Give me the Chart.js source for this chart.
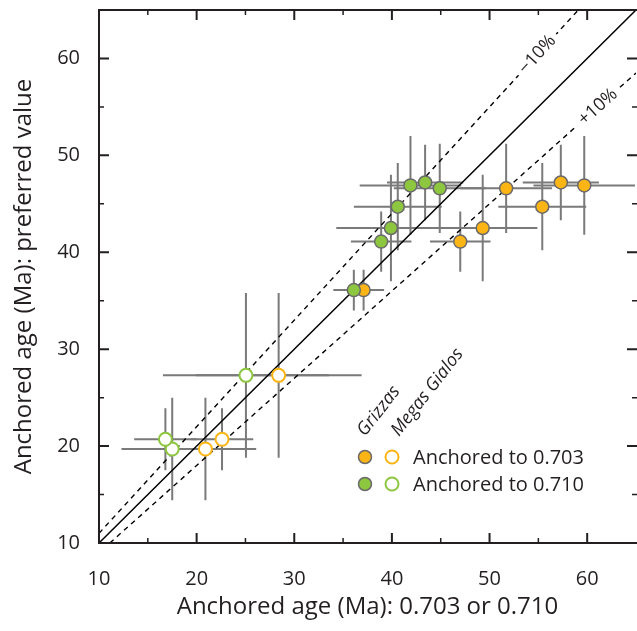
<!DOCTYPE html>
<html><head><meta charset="utf-8">
<script src="https://cdn.jsdelivr.net/npm/chart.js@4.4.1/dist/chart.umd.min.js"></script>
<style>html,body{margin:0;padding:0;background:#fff;}canvas{display:block;}</style>
</head><body>
<canvas id="c" width="637" height="631"></canvas>
<script>
// ---- data ----
const xTicks = [10, 20, 30, 40, 50, 60];
const yTicks = [10, 20, 30, 40, 50, 60];
const axisMin = 10, axisMax = 65;

// Grizzas, anchored to 0.703 (filled orange)
const grz703X = [37.1, 47.0, 49.3, 51.7, 55.4, 57.3, 59.7];
const grz703Y = [36.1, 41.1, 42.5, 46.6, 44.7, 47.2, 46.9];
const grz703Xerr = [2.1, 3.1, 5.6, 4.7, 4.5, 3.9, 5.2];
const grz703Yerr = [2.1, 3.1, 5.5, 4.6, 4.5, 3.9, 5.1];
// Grizzas, anchored to 0.710 (filled green)
const grz710X = [36.1, 38.9, 39.9, 40.6, 41.9, 43.4, 44.9];
const grz710Y = [36.1, 41.1, 42.5, 44.7, 46.9, 47.2, 46.6];
const grz710Xerr = [2.1, 3.1, 5.6, 4.5, 5.2, 3.9, 4.7];
const grz710Yerr = [2.1, 3.1, 5.5, 4.5, 5.1, 3.9, 4.6];
// Megas Gialos, anchored to 0.703 (open orange)
const mg703X = [20.9, 22.6, 28.4];
const mg703Y = [19.7, 20.7, 27.3];
const mg703Xerr = [5.2, 3.2, 8.5];
const mg703Yerr = [5.3, 3.2, 8.5];
// Megas Gialos, anchored to 0.710 (open green)
const mg710X = [17.5, 16.8, 25.05];
const mg710Y = [19.7, 20.7, 27.3];
const mg710Xerr = [5.2, 3.2, 8.5];
const mg710Yerr = [5.3, 3.2, 8.5];

// reference lines (endpoints in data units)
const oneToOne = [[10, 10], [65, 65]];
const minus10 = [[10, 11], [59.09, 65]];
const plus10 = [[11.11, 10], [65, 58.5]];

const ORANGE = '#FDB515', GREEN = '#8DC63F', EDGE = '#6a6a6a', BAR = '#7a7a7a', INK = '#231f20';
const FONT = "'Open Sans', 'Noto Sans', sans-serif";

function pts(xs, ys, xe, ye) { return xs.map((v, i) => ({x: v, y: ys[i], xe: xe[i], ye: ye[i]})); }
function linePts(a) { return a.map(p => ({x: p[0], y: p[1]})); }

const datasets = [
  {label: 'Grizzas 0.710', data: pts(grz710X, grz710Y, grz710Xerr, grz710Yerr), backgroundColor: GREEN, borderColor: EDGE, pointRadius: 6.5, pointBorderWidth: 1.5, pointHoverRadius: 6.5},
  {label: 'Grizzas 0.703', data: pts(grz703X, grz703Y, grz703Xerr, grz703Yerr), backgroundColor: ORANGE, borderColor: EDGE, pointRadius: 6.5, pointBorderWidth: 1.5, pointHoverRadius: 6.5},
  {label: 'Megas Gialos 0.710', data: pts(mg710X, mg710Y, mg710Xerr, mg710Yerr), backgroundColor: '#fff', borderColor: GREEN, pointRadius: 6.5, pointBorderWidth: 2, pointHoverRadius: 6.5},
  {label: 'Megas Gialos 0.703', data: pts(mg703X, mg703Y, mg703Xerr, mg703Yerr), backgroundColor: '#fff', borderColor: ORANGE, pointRadius: 6.5, pointBorderWidth: 2, pointHoverRadius: 6.5},
  {type: 'line', label: '1:1', data: linePts(oneToOne), borderColor: '#000', borderWidth: 1.5, pointRadius: 0, fill: false},
  {type: 'line', label: '-10%', data: linePts(minus10), borderColor: '#000', borderWidth: 1.4, borderDash: [5, 4.5], pointRadius: 0, fill: false},
  {type: 'line', label: '+10%', data: linePts(plus10), borderColor: '#000', borderWidth: 1.4, borderDash: [5, 4.5], pointRadius: 0, fill: false}
];

const decor = {
  id: 'decor',
  beforeDatasetsDraw(chart) {
    const ctx = chart.ctx, xs = chart.scales.x, ys = chart.scales.y;
    ctx.save();
    ctx.strokeStyle = BAR; ctx.lineWidth = 2;
    chart.data.datasets.forEach(ds => {
      if (ds.type === 'line') return;
      ds.data.forEach(p => {
        const cx = xs.getPixelForValue(p.x), cy = ys.getPixelForValue(p.y);
        ctx.beginPath();
        ctx.moveTo(xs.getPixelForValue(p.x - p.xe), cy);
        ctx.lineTo(xs.getPixelForValue(p.x + p.xe), cy);
        ctx.moveTo(cx, ys.getPixelForValue(p.y - p.ye));
        ctx.lineTo(cx, ys.getPixelForValue(p.y + p.ye));
        ctx.stroke();
      });
    });
    ctx.restore();
  },
  afterDatasetsDraw(chart) {
    const ctx = chart.ctx, xs = chart.scales.x, ys = chart.scales.y, ca = chart.chartArea;
    ctx.save();
    function lineLabel(seg, xv, text) {
      const p0 = {x: xs.getPixelForValue(seg[0][0]), y: ys.getPixelForValue(seg[0][1])};
      const p1 = {x: xs.getPixelForValue(seg[1][0]), y: ys.getPixelForValue(seg[1][1])};
      const ang = Math.atan2(p1.y - p0.y, p1.x - p0.x);
      const t = (xv - seg[0][0]) / (seg[1][0] - seg[0][0]);
      const yv = seg[0][1] + t * (seg[1][1] - seg[0][1]);
      const cx = xs.getPixelForValue(xv), cy = ys.getPixelForValue(yv);
      ctx.save();
      ctx.translate(cx, cy); ctx.rotate(ang);
      ctx.font = "18px " + FONT;
      const w = ctx.measureText(text).width;
      ctx.fillStyle = '#fff';
      ctx.fillRect(-w / 2 - 5, -9, w + 10, 18);
      ctx.fillStyle = INK; ctx.textAlign = 'center'; ctx.textBaseline = 'middle';
      ctx.fillText(text, 0, 0);
      ctx.restore();
    }
    lineLabel(minus10, 54.9, '\u221210%');
    lineLabel(plus10, 61.1, '+10%');

    // frame
    ctx.strokeStyle = INK; ctx.lineWidth = 2;
    ctx.beginPath();
    ctx.moveTo(ca.right + 2, ca.top); ctx.lineTo(ca.left, ca.top);
    ctx.lineTo(ca.left, ca.bottom); ctx.lineTo(ca.right + 2, ca.bottom);
    ctx.stroke();
    // inward ticks
    for (let v = axisMin; v <= axisMax; v += 5) {
      const major = v % 10 === 0;
      const L = major ? 10 : 5;
      ctx.lineWidth = major ? 2 : 1.5;
      const px = xs.getPixelForValue(v), py = ys.getPixelForValue(v);
      ctx.beginPath();
      if (v > axisMin && v < axisMax) {
        ctx.moveTo(px, ca.bottom); ctx.lineTo(px, ca.bottom - L);
        ctx.moveTo(px, ca.top); ctx.lineTo(px, ca.top + L);
        ctx.moveTo(ca.left, py); ctx.lineTo(ca.left + L, py);
        ctx.moveTo(ca.right + 1, py); ctx.lineTo(ca.right + 1 - L, py);
      }
      ctx.stroke();
    }

    // legend
    const rows = [{y: 457, c: ORANGE, t: 'Anchored to 0.703'}, {y: 484, c: GREEN, t: 'Anchored to 0.710'}];
    rows.forEach(r => {
      ctx.beginPath(); ctx.arc(365, r.y, 6.5, 0, Math.PI * 2);
      ctx.fillStyle = r.c; ctx.fill(); ctx.lineWidth = 1.5; ctx.strokeStyle = EDGE; ctx.stroke();
      ctx.beginPath(); ctx.arc(392, r.y, 6.5, 0, Math.PI * 2);
      ctx.fillStyle = '#fff'; ctx.fill(); ctx.lineWidth = 2; ctx.strokeStyle = r.c; ctx.stroke();
      ctx.fillStyle = INK; ctx.font = "20px " + FONT; ctx.textAlign = 'left'; ctx.textBaseline = 'middle';
      ctx.fillText(r.t, 413, r.y + 1);
    });
    // rotated site labels
    ctx.font = "italic 18px " + FONT; ctx.fillStyle = INK; ctx.textAlign = 'left'; ctx.textBaseline = 'alphabetic';
    [[365, 437, 'Grizzas'], [399, 437, 'Megas Gialos']].forEach(l => {
      ctx.save(); ctx.translate(l[0], l[1]); ctx.rotate(-52 * Math.PI / 180);
      ctx.fillText(l[2], 0, 0); ctx.restore();
    });
    ctx.restore();
  }
};

function zeroPad(s) { s.paddingTop = 0; s.paddingBottom = 0; s.paddingLeft = 0; s.paddingRight = 0; }

new Chart(document.getElementById('c'), {
  type: 'scatter',
  data: {datasets},
  options: {
    responsive: false, devicePixelRatio: 1, animation: false,
    layout: {autoPadding: false, padding: {top: 10, right: 1, left: 0, bottom: 0}},
    plugins: {legend: {display: false}, tooltip: {enabled: false}},
    scales: {
      x: {
        type: 'linear', min: axisMin, max: axisMax,
        afterBuildTicks: s => { s.ticks = xTicks.map(v => ({value: v})); },
        afterFit: s => { s.height = 88; zeroPad(s); },
        grid: {display: false, drawTicks: false}, border: {display: false},
        ticks: {font: {family: FONT, size: 20}, color: INK, padding: 24, maxRotation: 0},
        title: {display: true, text: 'Anchored age (Ma): 0.703 or 0.710', font: {family: FONT, size: 24}, color: INK, padding: {top: 0, bottom: 9}}
      },
      y: {
        type: 'linear', min: axisMin, max: axisMax,
        afterBuildTicks: s => { s.ticks = yTicks.map(v => ({value: v})); },
        afterFit: s => { s.width = 99; zeroPad(s); },
        grid: {display: false, drawTicks: false}, border: {display: false},
        ticks: {font: {family: FONT, size: 20}, color: INK, padding: 19},
        title: {display: true, text: 'Anchored age (Ma): preferred value', font: {family: FONT, size: 24}, color: INK, padding: {top: 10, bottom: 0}}
      }
    }
  },
  plugins: [decor]
});
</script>
</body></html>
